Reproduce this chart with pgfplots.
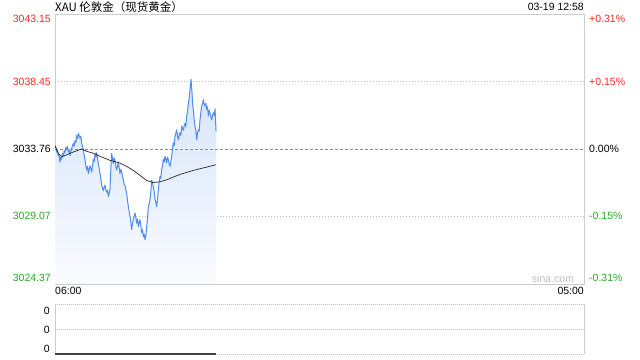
\documentclass[border=0pt]{standalone}
\usepackage{pgfplots}
\pgfplotsset{compat=1.18}
\usepackage{pgfplotstable}
\usepackage{fontspec}
\setmainfont{Liberation Sans}
\newfontfamily\cjk{Noto Sans CJK SC}
\definecolor{upred}{RGB}{242,40,40}
\definecolor{dngreen}{RGB}{36,170,36}
\definecolor{pline}{RGB}{80,140,235}
\definecolor{frame}{RGB}{204,204,204}
\definecolor{gridc}{RGB}{190,190,190}
\definecolor{filltop}{RGB}{214,228,250}
\definecolor{fillbot}{RGB}{250,251,255}

% minutes after 06:00, price
\pgfplotstableread{
t p
0 3033.99
2 3033.85
4.3 3033.55
6 3033.70
8 3033.30
10 3033.40
11.3 3033.15
13 3032.85
15 3033.20
17.4 3033.05
19.5 3033.45
21.7 3033.30
24 3033.65
26.1 3033.50
28 3033.85
30.4 3033.70
32.5 3033.95
34.8 3033.55
37 3033.70
39.1 3033.30
41 3033.55
43.5 3033.80
45.5 3033.95
47.8 3034.15
50 3033.95
52.2 3034.35
54.5 3034.20
56.5 3034.70
58.5 3034.50
60.9 3034.85
63 3034.70
65.2 3034.50
67.5 3034.65
69.6 3034.15
71.5 3034.00
73.9 3033.71
76 3033.35
78.3 3033.01
80.5 3032.60
82.6 3032.30
85 3032.55
87 3032.05
89 3032.30
91.3 3032.60
93.5 3032.40
95.7 3032.15
98 3032.60
100 3033.05
102 3032.85
104.4 3033.40
106.5 3033.20
108.7 3033.50
111 3033.10
113.1 3032.75
115 3032.45
117.4 3032.05
119.5 3031.70
121.8 3031.25
124 3031.05
126.1 3030.85
128.3 3031.10
130.5 3031.25
132.5 3030.95
134.8 3030.75
137 3030.90
139.2 3030.45
141.3 3030.65
143.5 3031.00
145.5 3032.30
147.8 3033.45
150 3033.10
152.2 3032.75
154.3 3033.15
156.5 3032.95
158.5 3032.60
160.9 3032.30
163 3032.55
165.2 3032.85
167.5 3032.45
169.6 3032.05
171.7 3032.35
173.9 3032.20
176 3031.85
178.3 3031.60
180.5 3031.30
182.6 3031.20
184.8 3030.90
187 3030.70
189 3030.20
191.3 3029.75
193.5 3029.40
195.7 3029.05
197.8 3028.70
200 3028.15
202 3028.55
204.4 3028.85
206.5 3029.10
208.7 3029.30
211 3028.95
213.1 3028.60
215.3 3028.90
217.4 3028.35
219.5 3028.60
221.8 3028.85
224 3028.40
226.1 3027.95
228.3 3028.15
230.5 3027.65
232.6 3027.85
234.8 3027.45
237 3027.70
239.2 3028.35
241.3 3028.90
243.5 3029.75
245.7 3029.95
247.9 3030.25
250 3030.80
252.2 3031.60
254.4 3031.35
256.6 3031.15
258.7 3030.80
260.9 3030.25
263 3030.05
265.3 3029.75
267.5 3030.30
269.6 3030.95
271.8 3031.50
274 3031.85
276 3031.70
278.3 3032.35
280.5 3032.60
282.7 3033.05
284.8 3032.85
287 3033.25
289 3033.05
291.4 3032.80
293.5 3033.20
295.7 3033.00
298 3032.70
300.1 3032.55
302.3 3032.90
304.4 3033.25
306.5 3033.80
308.7 3034.20
311 3034.00
313.1 3034.65
315.2 3034.85
317.4 3035.10
319.5 3034.70
321.8 3034.40
324 3034.75
326.1 3034.90
328.3 3034.70
330.5 3035.35
332.6 3035.20
334.8 3035.05
337 3035.40
339.2 3035.55
341.3 3035.30
343.5 3036.05
345.6 3036.35
347.9 3036.95
350 3037.30
352.2 3037.90
354.8 3038.60
357.5 3037.65
359 3036.90
360.9 3036.50
363 3035.80
365.3 3035.35
367.5 3035.05
369.6 3034.40
371.8 3034.90
374 3035.10
376.1 3035.00
378.3 3035.80
380.5 3036.30
382.7 3036.75
384.8 3036.90
387 3037.20
389.2 3036.85
391.4 3036.75
393.5 3036.95
395.7 3036.50
397.9 3036.70
400.1 3036.05
402.2 3036.45
404.4 3036.25
406.6 3036.00
408.8 3035.80
411 3036.05
413.1 3036.30
415.3 3036.10
417.5 3036.55
420.1 3034.99
}\price

\pgfplotstableread{
t p
0 3033.99
8.7 3033.48
17.4 3033.20
30.4 3033.36
47.8 3033.55
69.6 3033.76
82.6 3033.60
104.4 3033.43
117.4 3033.25
143.5 3032.97
169.6 3032.78
187.0 3032.55
204.4 3032.27
221.8 3031.92
239.2 3031.57
256.6 3031.43
274.0 3031.48
291.4 3031.62
308.7 3031.81
326.1 3031.99
343.5 3032.13
360.9 3032.27
378.3 3032.39
395.7 3032.50
420.1 3032.67
}\avgline

\pgfplotstableread{
t v
0 0
420.1 0
}\volume

\begin{document}
\begin{tikzpicture}[every node/.style={inner sep=0pt, font=\fontsize{10.5bp}{12bp}\selectfont}]
\path[use as bounding box, fill=white] (0bp,0bp) rectangle (640bp,360bp);

\begin{axis}[at={(55bp,76bp)}, anchor=south west, scale only axis,
  width=529bp, height=270bp,
  xmin=0, xmax=1380, ymin=3024.37, ymax=3043.15,
  axis line style={draw=frame, line width=0.8bp},
  xtick=\empty, ytick=\empty, clip mode=individual]
  \draw[gridc, line width=0.6bp, dash pattern=on 1bp off 2bp] (axis cs:0,3038.45) -- (axis cs:1380,3038.45);
  \draw[gridc, line width=0.6bp, dash pattern=on 1bp off 2bp] (axis cs:0,3029.07) -- (axis cs:1380,3029.07);
  \addplot[draw=none, top color=filltop, bottom color=fillbot] table[x=t,y=p]{\price} \closedcycle;
  \draw[black!45, line width=0.6bp, dash pattern=on 3bp off 2bp] (axis cs:0,3033.76) -- (axis cs:1380,3033.76);
  \addplot[pline, line width=1bp, line join=round] table[x=t,y=p]{\price};
  \addplot[black!85, line width=0.7bp, line join=round] table[x=t,y=p]{\avgline};
\end{axis}

\begin{axis}[at={(55bp,6bp)}, anchor=south west, scale only axis,
  width=529bp, height=50bp,
  xmin=0, xmax=1380, ymin=0, ymax=2,
  axis line style={draw=none},
  xtick=\empty, ytick=\empty, clip=false]
  \draw[gridc, line width=0.6bp, dash pattern=on 1bp off 1bp] (rel axis cs:0,1) -- (rel axis cs:1,1);
  \draw[gridc, line width=0.6bp, dash pattern=on 1bp off 1bp] (rel axis cs:0,0.5) -- (rel axis cs:1,0.5);
  \draw[gridc, line width=0.6bp, dash pattern=on 1bp off 1bp] (rel axis cs:0,0) -- (rel axis cs:1,0);
  \draw[frame, line width=0.8bp] (rel axis cs:0,0) -- (rel axis cs:0,1);
  \draw[frame, line width=0.8bp] (rel axis cs:1,0) -- (rel axis cs:1,1);
  \addplot[black!75, line width=1.2bp] table[x=t,y=v]{\volume};
\end{axis}

% title and timestamp
\node[anchor=base west] at (55bp,348.5bp) {\fontsize{11.5bp}{13bp}\selectfont\cjk XAU 伦敦金（现货黄金）};
\node[anchor=base east] at (584bp,349bp) {03-19 12:58};

% left price labels
\node[anchor=east, text=upred] at (51bp,341bp) {3043.15};
\node[anchor=east, text=upred] at (51bp,278bp) {3038.45};
\node[anchor=east, text=black] at (51bp,211bp) {3033.76};
\node[anchor=east, text=dngreen] at (51bp,144bp) {3029.07};
\node[anchor=east, text=dngreen] at (51bp,82bp) {3024.37};

% right percent labels
\node[anchor=west, text=upred] at (589bp,341bp) {+0.31\%};
\node[anchor=west, text=upred] at (589bp,278bp) {+0.15\%};
\node[anchor=west, text=black] at (589bp,211bp) {0.00\%};
\node[anchor=west, text=dngreen] at (589bp,144bp) {-0.15\%};
\node[anchor=west, text=dngreen] at (589bp,82bp) {-0.31\%};

% time labels
\node[anchor=west] at (55bp,69bp) {06:00};
\node[anchor=east] at (584bp,69bp) {05:00};
\node[text=black!25] at (553bp,81bp) {sina.com};

% volume labels
\node[anchor=east] at (50bp,49bp) {0};
\node[anchor=east] at (50bp,30bp) {0};
\node[anchor=east] at (50bp,11bp) {0};
\end{tikzpicture}
\end{document}
